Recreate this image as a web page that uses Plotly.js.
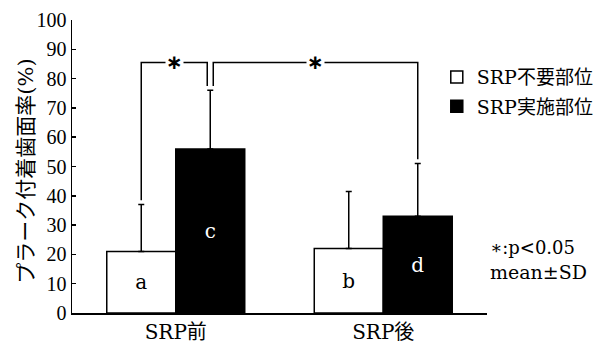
<!DOCTYPE html>
<html>
<head>
<meta charset="utf-8">
<script src="https://cdn.plot.ly/plotly-3.0.1.min.js"></script>
<style>html,body{margin:0;padding:0;background:#fff;}#chart{width:601px;height:347px;}</style>
</head>
<body>
<div id="chart"></div>
<script>
// ---- data ----
const categories = ["SRP前", "SRP後"];
const seriesNames = ["SRP不要部位", "SRP実施部位"];
const notNeededMean = [21, 22];
const notNeededSD = [16, 19.5];
const performedMean = [56, 33];
const performedSD = [20, 18];
const barLabelsNotNeeded = ["a", "b"];
const barLabelsPerformed = ["c", "d"];
const yTickVals = [0, 10, 20, 30, 40, 50, 60, 70, 80, 90, 100];
const yTitle = "プラーク付着歯面率(%)";
const noteLines = ["∗:p<0.05", "mean±SD"];
const sigMark = "∗";

// ---- style ----
const SERIF = '"DejaVu Serif", "Noto Sans CJK JP", serif';
const TICKFONT = '"Liberation Serif", "Noto Sans CJK JP", serif';
const bargap = 0.335;
const barW = (1 - bargap) / 2;
const bracketY = 85.5;
const legGap = 1.5;
const centerGap = 0.0145;

const zeros = categories.map(() => 0);

const traces = [
  {
    type: "bar", name: seriesNames[0], x: categories, y: notNeededMean, legendgroup: "g1",
    marker: {color: "#ffffff", line: {color: "#000", width: 1.5}},
    error_y: {type: "data", symmetric: false, array: notNeededSD, arrayminus: zeros, color: "#000", thickness: 1.5, width: 3},
    text: barLabelsNotNeeded, textposition: "inside", insidetextanchor: "middle", textangle: 0,
    textfont: {family: SERIF, size: 20, color: "#000"}, hoverinfo: "none"
  },
  {
    type: "bar", name: seriesNames[1], x: categories, y: performedMean, legendgroup: "g2",
    marker: {color: "#000000", line: {color: "#000", width: 1.5}},
    error_y: {type: "data", symmetric: false, array: performedSD, arrayminus: zeros, color: "#000", thickness: 1.5, width: 3},
    text: barLabelsPerformed, textposition: "inside", insidetextanchor: "middle", textangle: 0,
    textfont: {family: SERIF, size: 20, color: "#fff"}, hoverinfo: "none"
  }
];

// bracket geometry derived from data
const xWhite = i => i - barW / 2;
const xBlack = i => i + barW / 2;
const topW = i => notNeededMean[i] + notNeededSD[i];
const topB = i => performedMean[i] + performedSD[i];

function bracket(x0, y0, x1, y1) {
  return {type: "path", xref: "x", yref: "y",
    path: `M${x0},${y0} L${x0},${bracketY} L${x1},${bracketY} L${x1},${y1}`,
    line: {color: "#000", width: 1.5}};
}
const shapes = [
  bracket(xWhite(0), topW(0) + legGap, xBlack(0) - centerGap, topB(0) + legGap),
  bracket(xBlack(0) + centerGap, topB(0) + legGap, xBlack(1), topB(1) + legGap)
];

const starFont = {family: '"DejaVu Sans", sans-serif', size: 20, color: "#000", weight: "bold"};
const annotations = [
  {xref: "x", yref: "y", x: (xWhite(0) + xBlack(0) - centerGap) / 2, y: bracketY, text: sigMark,
   showarrow: false, font: starFont, bgcolor: "#fff", borderpad: 0, xanchor: "center", yanchor: "middle"},
  {xref: "x", yref: "y", x: (xBlack(0) + centerGap + xBlack(1)) / 2, y: bracketY, text: sigMark,
   showarrow: false, font: starFont, bgcolor: "#fff", borderpad: 0, xanchor: "center", yanchor: "middle"},
  {xref: "paper", yref: "paper", x: 1.003, y: 0.2226, text: noteLines[0], showarrow: false,
   xanchor: "left", yanchor: "middle", font: {family: SERIF, size: 18, color: "#000"}},
  {xref: "paper", yref: "paper", x: 1.003, y: 0.141, text: noteLines[1], showarrow: false,
   xanchor: "left", yanchor: "middle", font: {family: SERIF, size: 19, color: "#000"}},
  {xref: "paper", yref: "paper", x: -0.11, y: 0.4835, text: yTitle, textangle: -90, showarrow: false,
   xanchor: "center", yanchor: "middle", font: {family: SERIF, size: 21, color: "#000"}}
];

const layout = {
  width: 601, height: 347,
  margin: {l: 72, r: 114, t: 20, b: 34, pad: 0, autoexpand: false},
  paper_bgcolor: "#fff", plot_bgcolor: "#fff",
  barmode: "group", bargap: bargap, bargroupgap: 0,
  showlegend: true,
  legend: {x: 0.879, xanchor: "left", y: 0.87, yanchor: "top", bgcolor: "rgba(0,0,0,0)",
           font: {family: SERIF, size: 19, color: "#000"}, traceorder: "grouped", tracegroupgap: 1.5,
           itemclick: false},
  xaxis: {type: "category", range: [-0.5, 1.5], showline: true, linecolor: "#000", linewidth: 1.5,
          ticks: "", showgrid: false, zeroline: false, fixedrange: true, automargin: false,
          tickfont: {family: SERIF, size: 20, color: "#000"}},
  yaxis: {range: [0, 100], tickvals: yTickVals, ticks: "inside", ticklen: 4, tickwidth: 1.5, tickcolor: "#000",
          showline: true, linecolor: "#000", linewidth: 1.5, showgrid: false, zeroline: false, fixedrange: true,
          automargin: false,
          tickfont: {family: TICKFONT, size: 20, color: "#000"}},
  shapes: shapes,
  annotations: annotations
};

Plotly.newPlot("chart", traces, layout, {displayModeBar: false, staticPlot: true});
</script>
</body>
</html>
